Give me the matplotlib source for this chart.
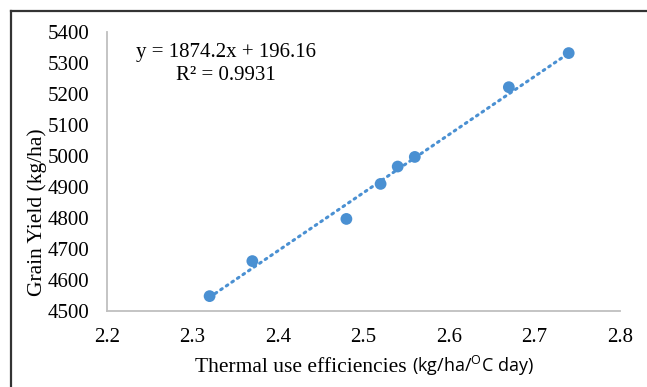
import numpy as np
import matplotlib.pyplot as plt
from matplotlib.lines import Line2D
from matplotlib.offsetbox import TextArea, HPacker, AnnotationBbox

# Данные
tue = [2.32, 2.37, 2.48, 2.52, 2.54, 2.56, 2.67, 2.74]
grain_yield = [4548, 4661, 4797, 4910, 4966, 4997, 5222, 5332]
slope = 1874.2
intercept = 196.16
r2 = 0.9931
x_ticks = [2.2, 2.3, 2.4, 2.5, 2.6, 2.7, 2.8]
y_ticks = [4500, 4600, 4700, 4800, 4900, 5000, 5100, 5200, 5300, 5400]

plt.rcParams['mathtext.fontset'] = 'custom'
plt.rcParams['mathtext.rm'] = 'Open Sans'

W, H = 647, 387
fig = plt.figure(figsize=(W / 100, H / 100), dpi=100)
ax = fig.add_axes([107 / W, 1 - 311 / H, (620 - 107) / W, (311 - 32) / H])

blue = '#4a90d2'
serif = 'Liberation Serif'

# линия тренда
xl = np.array([min(tue), max(tue)])
ax.plot(xl, slope * xl + intercept, linestyle=(0, (0.6, 1.6)), color=blue,
        linewidth=2.2, dash_capstyle='round', zorder=2)
ax.scatter(tue, grain_yield, s=72, color=blue, edgecolors='none', zorder=3)

ax.set_xlim(2.2, 2.8)
ax.set_ylim(4500, 5400)
ax.set_xticks(x_ticks)
ax.set_yticks(y_ticks)
ax.set_xticklabels([f'{v:.1f}' for v in x_ticks], fontfamily=serif, fontsize=15)
ax.set_yticklabels([str(v) for v in y_ticks], fontfamily=serif, fontsize=15)
ax.tick_params(length=0)
ax.tick_params(axis='x', pad=12)
ax.tick_params(axis='y', pad=13)
for s in ['top', 'right']:
    ax.spines[s].set_visible(False)
for s in ['left', 'bottom']:
    ax.spines[s].set_color('#bfbfbf')
    ax.spines[s].set_linewidth(1.3)

# уравнение
ax.text(226 / W, 1 - 53 / H, f'y = {slope}x + {intercept}', transform=fig.transFigure,
        ha='center', va='center', fontfamily=serif, fontsize=15)
ax.text(226 / W, 1 - 76 / H, f'R² = {r2}', transform=fig.transFigure,
        ha='center', va='center', fontfamily=serif, fontsize=15)

# подписи осей
fig.text(37 / W, 1 - 212 / H, 'Grain Yield (kg/ha)', rotation=90, ha='center',
         va='center', fontfamily=serif, fontsize=15.5)

parts = [
    TextArea('Thermal use efficiencies ', textprops=dict(fontfamily=serif, fontsize=15.5)),
    TextArea(r'(kg/ha/$^{\mathrm{O}}$C day)', textprops=dict(fontfamily='Open Sans', fontsize=13)),
]
box = HPacker(children=parts, align='baseline', pad=0, sep=0)
ab = AnnotationBbox(box, (364 / W, 1 - 366 / H), xycoords='figure fraction',
                    frameon=False, box_alignment=(0.5, 0.5))
fig.add_artist(ab)

# рамка
fig.add_artist(Line2D([11 / W, 11 / W], [0, 1 - 11 / H], transform=fig.transFigure,
                      color='#333333', linewidth=1.6))
fig.add_artist(Line2D([11 / W, 1], [1 - 11 / H, 1 - 11 / H], transform=fig.transFigure,
                      color='#333333', linewidth=1.6))

fig.savefig('out.png', dpi=100)
